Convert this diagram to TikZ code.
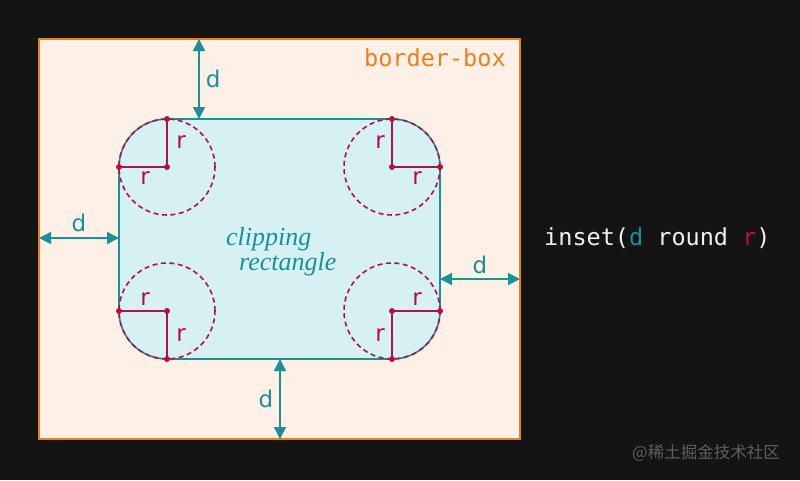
\documentclass[tikz,border=0pt]{standalone}
\usepackage{fontspec}
\usetikzlibrary{arrows.meta}
\newfontfamily\labelfont{DejaVu Sans}
\newfontfamily\codefont{DejaVu Sans Mono}
\newfontfamily\cjkfont{Noto Sans CJK SC}
\newfontfamily\serifit{Liberation Serif}
\definecolor{bgdark}{HTML}{141414}
\definecolor{peach}{HTML}{FDF0E6}
\definecolor{borderorange}{HTML}{E8801E}
\definecolor{clipfill}{HTML}{D6F1F4}
\definecolor{tealc}{HTML}{1A9098}
\definecolor{crimson}{HTML}{B3113F}
\definecolor{codewhite}{HTML}{F0F0F0}
\definecolor{wmgray}{HTML}{5E5E5E}
\tikzset{
  dimarrow/.style={draw=tealc, line width=1.6pt, {Triangle[length=12pt,width=12pt]}-{Triangle[length=12pt,width=12pt]}},
  dimlabel/.style={text=tealc, font=\labelfont\fontsize{23}{23}\selectfont, inner sep=0pt},
  radline/.style={draw=crimson, line width=2pt},
  radlabel/.style={text=crimson, font=\labelfont\fontsize{23}{23}\selectfont, inner sep=0pt},
  dashcircle/.style={draw=crimson, line width=1.6pt, dash pattern=on 5pt off 3.5pt},
  dotc/.style={fill=crimson},
}
\begin{document}
\begin{tikzpicture}[x=1pt,y=-1pt]
\useasboundingbox (0,0) rectangle (800,480);
\fill[bgdark] (0,0) rectangle (800,480);
% border box
\node[draw=borderorange, fill=peach, line width=1.6pt, inner sep=0pt, outer sep=0pt,
      minimum width=481pt, minimum height=400pt, anchor=north west] (bbox) at (39,39) {};
% clipping rectangle
\node[draw=tealc, fill=clipfill, line width=1.6pt, inner sep=0pt, outer sep=0pt, rounded corners=48pt,
      minimum width=321pt, minimum height=240pt, anchor=north west] (clip) at (119,119) {};
% labels
\node[text=borderorange, font=\codefont\fontsize{23.5}{23.5}\selectfont, inner sep=0pt, anchor=base west] (bblabel) at (364,66) {border-box};
\node[text=tealc, font=\serifit\fontsize{26}{26}\selectfont\itshape, inner sep=0pt, anchor=base west] (cl1) at (226,245) {clipping};
\node[text=tealc, font=\serifit\fontsize{26}{26}\selectfont\itshape, inner sep=0pt, anchor=base west] (cl2) at (239,270) {rectangle};
% d arrows
\coordinate (tA) at (199,39); \coordinate (tB) at (199,119);
\coordinate (lA) at (39,238); \coordinate (lB) at (119,238);
\coordinate (rA) at (440,279); \coordinate (rB) at (520,279);
\coordinate (bA) at (280,359); \coordinate (bB) at (280,439);
\draw[dimarrow] (tA) -- (tB) node[dimlabel, midway, right=6pt] (dtop) {d};
\draw[dimarrow] (lA) -- (lB) node[dimlabel, midway, above=5pt] (dleft) {d};
\draw[dimarrow] (rA) -- (rB) node[dimlabel, midway, above=4pt] (dright) {d};
\draw[dimarrow] (bA) -- (bB) node[dimlabel, midway, left=6pt] (dbot) {d};
% corner circles
\foreach \n/\cx/\cy in {tl/167/167, tr/392/167, bl/167/311, br/392/311} {
  \coordinate (c\n) at (\cx,\cy);
  \draw[dashcircle] (c\n) circle[radius=48pt];
}
% radius lines
\coordinate (tlT) at (167,119); \coordinate (tlL) at (119,167);
\coordinate (trT) at (392,119); \coordinate (trR) at (440,167);
\coordinate (blL) at (119,311); \coordinate (blB) at (167,359);
\coordinate (brR) at (440,311); \coordinate (brB) at (392,359);
\draw[radline] (tlT) -- (ctl) -- (tlL);
\draw[radline] (trT) -- (ctr) -- (trR);
\draw[radline] (blL) -- (cbl) -- (blB);
\draw[radline] (brR) -- (cbr) -- (brB);
\foreach \p in {tlT,tlL,ctl,trT,trR,ctr,blL,blB,cbl,brR,brB,cbr}
  \fill[dotc] (\p) circle[radius=3pt];
% r labels
\node[radlabel] (r1) at (181,142) {r};
\node[radlabel] (r2) at (145,178) {r};
\node[radlabel] (r3) at (380,142) {r};
\node[radlabel] (r4) at (417,178) {r};
\node[radlabel] (r5) at (145,299) {r};
\node[radlabel] (r6) at (181,335) {r};
\node[radlabel] (r7) at (417,299) {r};
\node[radlabel] (r8) at (380,335) {r};
% code
\node[font=\codefont\fontsize{23.5}{23.5}\selectfont, inner sep=0pt, anchor=base west, text=codewhite] (code) at (544,245)
  {inset(\textcolor{tealc}{d} round \textcolor{crimson}{r})};
% watermark
\node[font=\cjkfont\fontsize{16.5}{16.5}\selectfont, inner sep=0pt, anchor=west, text=wmgray] (wm) at (632,453) {@稀土掘金技术社区};
\end{tikzpicture}
\end{document}
